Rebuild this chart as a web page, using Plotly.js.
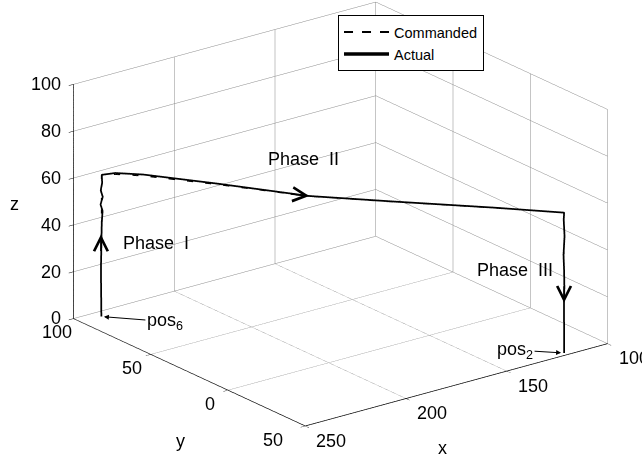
<!DOCTYPE html>
<html>
<head>
<meta charset="utf-8">
<script src="https://cdn.plot.ly/plotly-3.0.1.min.js"></script>
<style>
html,body{margin:0;padding:0;background:#fff;}
#chart{width:642px;height:458px;}
</style>
</head>
<body>
<div id="chart"></div>
<script>
// Commanded trajectory (dashed)
const cmdX = [240, 240, 236.4, 229.2, 210, 186, 164.4, 138, 120, 120];
const cmdY = [95, 95, 90.7, 82.1, 59.3, 30.7, 4.9, -26.6, -48, -48];
const cmdZ = [0, 60, 61.2, 61.5, 60.3, 58.3, 58.8, 59.6, 60, 0];

// Actual trajectory (solid)
const actX = [240, 240.1, 240.2, 240, 239.8, 239.4, 240.4, 239.3, 240.3, 239.6, 239.8,
              236.4, 229.2, 210, 186, 164.4, 138, 120,
              120.2, 119.8, 120.3, 120, 119.9, 120.1, 120, 120];
const actY = [95, 95, 95, 95, 95, 95, 95, 95, 95, 95, 95,
              90.7, 82.1, 59.3, 30.7, 4.9, -26.6, -48,
              -48, -48, -48, -48, -48, -48, -48, -48];
const actZ = [0, 10, 20, 30, 40, 45, 48, 51, 54, 57, 60.5,
              61.8, 62.1, 60.7, 58.5, 59, 59.8, 60,
              57, 50, 42, 35, 28, 20, 10, 0];

const seriesNames = ['Commanded', 'Actual'];

const xTicks = [100, 150, 200, 250];
const xTickText = ['100', '150', '200', '250'];
const yTicks = [-50, 0, 50, 100];
const yTickText = ['50', '0', '50', '100'];
const zTicks = [0, 20, 40, 60, 80, 100];
const zTickText = ['0', '20', '40', '60', '80', '100'];

const FONT = 'Liberation Sans, Arial, Helvetica, sans-serif';
const TF = {family: FONT, size: 18, color: '#000'};

const traces = [
  {type: 'scatter3d', mode: 'lines', name: seriesNames[0],
   x: cmdX, y: cmdY, z: cmdZ,
   line: {color: '#000', width: 2, dash: 'dash'}},
  {type: 'scatter3d', mode: 'lines', name: seriesNames[1],
   x: actX, y: actY, z: actZ,
   line: {color: '#000', width: 3.5}}
];

function ax(ticks, range) {
  return {
    title: {text: ''},
    range: range, autorange: false,
    tickmode: 'array', tickvals: ticks, showticklabels: false,
    showgrid: true, gridcolor: '#8a8a8a', gridwidth: 1,
    showline: true, linecolor: '#000', linewidth: 1.5,
    ticks: 'outside', ticklen: 6, tickcolor: '#000', tickwidth: 1,
    zeroline: false, showbackground: false, showspikes: false
  };
}

const lbl = (x, y, z, text, xs, ys, anchor) => ({
  x: x, y: y, z: z, text: text, showarrow: false,
  xanchor: anchor || 'center', yanchor: 'middle',
  xshift: xs, yshift: ys, font: TF
});
const chevron = (x, y, z, axp, ayp) => ({
  x: x, y: y, z: z, text: '', showarrow: true,
  ax: axp, ay: ayp, arrowhead: 5, arrowsize: 1.8, arrowwidth: 1.5,
  arrowcolor: '#000', standoff: 0
});

const annotations = [];
// tick labels placed through the scene's own projection
xTicks.forEach((v, i) => annotations.push(lbl(v, -50, 0, xTickText[i], 26, -15)));
const yDx = [-32, -18, -18, -16];
yTicks.forEach((v, i) => annotations.push(lbl(250, v, 0, yTickText[i], yDx[i], -14)));
zTicks.forEach((v, i) => annotations.push(lbl(250, 100, v, zTickText[i], -10, 0, 'right')));
// axis titles
annotations.push(lbl(175, -50, 0, 'x', -14, -63));
annotations.push(lbl(250, 25, 0, 'y', -8, -69));
annotations.push(lbl(250, 100, 50, 'z', -59, -3));
// phase labels
annotations.push(lbl(240, 95, 30, 'Phase\u00a0\u00a0I', 55, 3));
annotations.push(lbl(206.4, 55, 60, 'Phase\u00a0\u00a0II', 73, 27));
annotations.push(lbl(120, -48, 35, 'Phase\u00a0\u00a0III', -49, 1));
// position markers
annotations.push({x: 240, y: 95, z: 0, text: 'pos<sub>6</sub>', showarrow: true,
  ax: 64, ay: 5, arrowhead: 2, arrowsize: 1, arrowwidth: 1, standoff: 3,
  arrowcolor: '#000', font: TF});
annotations.push({x: 120, y: -48, z: 0, text: 'pos<sub>2</sub>', showarrow: true,
  ax: -49, ay: -3, arrowhead: 2, arrowsize: 1, arrowwidth: 1, standoff: 3,
  arrowcolor: '#000', font: TF});
// direction chevrons
annotations.push(chevron(240, 95, 35, 0, 18));
annotations.push(chevron(186, 30.7, 58.5, -20, -2));
annotations.push(chevron(120, -48, 21.5, 0, -18));

const layout = {
  width: 642, height: 458,
  margin: {l: 0, r: 0, t: 0, b: 0},
  paper_bgcolor: '#fff',
  font: {family: FONT, size: 17, color: '#000'},
  showlegend: true,
  legend: {x: 0.5265, y: 0.967, xanchor: 'left', yanchor: 'top',
           bgcolor: '#fff', bordercolor: '#000', borderwidth: 1,
           itemwidth: 45,
           font: {family: FONT, size: 14.5, color: '#000'}},
  scene: {
    domain: {x: [0.06, 1], y: [0.066, 1]},
    aspectmode: 'manual', aspectratio: {x: 1.78, y: 1.78, z: 1.171},
    camera: {
      projection: {type: 'orthographic'},
      eye: {x: -0.614, y: -0.801, z: 0.3835},
      up: {x: 0, y: 0, z: 1},
      center: {x: 0, y: 0, z: 0}
    },
    xaxis: ax(xTicks, [250, 100]),
    yaxis: ax(yTicks, [-50, 100]),
    zaxis: ax(zTicks, [0, 100]),
    annotations: annotations
  }
};

Plotly.newPlot('chart', traces, layout, {displayModeBar: false});
</script>
</body>
</html>
